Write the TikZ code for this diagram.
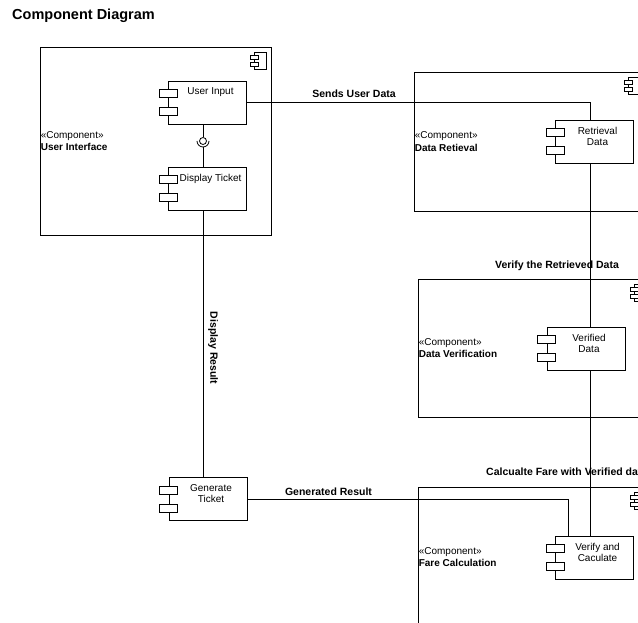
\documentclass[tikz,border=0pt]{standalone}
\usepackage{fontspec}
\setmainfont{Liberation Sans}
\usetikzlibrary{calc}

\newcommand{\umlcomp}[4]{%
  \node [part] (#1) at (#2,#3) {};
  \node [partlbl] (#1-t) at ([xshift=3pt,yshift=-7pt]#1.north) {#4};
  \draw [tab] ([xshift=-9pt,yshift=13pt]#1.west) rectangle ++(18,8);
  \draw [tab] ([xshift=-9pt,yshift=-5pt]#1.west) rectangle ++(18,8);
}
\newcommand{\umlicon}[1]{%
  \draw [tab, line width=0.6pt] ([xshift=-17pt,yshift=-6pt]#1.north east) rectangle ++(12,17);
  \draw [tab, line width=0.6pt] ([xshift=-21pt,yshift=-9pt]#1.north east) rectangle ++(8,4);
  \draw [tab, line width=0.6pt] ([xshift=-21pt,yshift=-16pt]#1.north east) rectangle ++(8,4);
}

\begin{document}
\begin{tikzpicture}[x=1pt, y=-1pt,
    every node/.style={inner sep=0pt},
    box/.style={draw, line width=0.8pt, fill=white},
    boxlbl/.style={anchor=west, align=left, font=\fontsize{10}{12.5}\selectfont},
    part/.style={draw, line width=0.8pt, fill=white, minimum width=78pt, minimum height=43pt},
    partlbl/.style={anchor=north, align=center, font=\fontsize{10}{11}\selectfont},
    tab/.style={draw, line width=0.8pt, fill=white},
    wire/.style={draw, line width=0.8pt},
    elabel/.style={font=\fontsize{10.5}{12}\selectfont\bfseries}]
\useasboundingbox (0,0) rectangle (638,623);
\fill [white] (0,0) rectangle (638,623);
\clip (0,0) rectangle (638,623);

\node [anchor=base west, font=\fontsize{14.5}{16}\selectfont\bfseries] (title) at (12,20) {Component Diagram};

\node [box, minimum width=231pt, minimum height=188pt] (ui) at (155.5,141) {};
\node [boxlbl] (ui-t) at ([xshift=1pt]ui.west) {«Component»\\\textbf{User Interface}};
\umlicon{ui}
\node [box, minimum width=231pt, minimum height=139pt] (dret) at (529.5,141.5) {};
\node [boxlbl] (dret-t) at ([xshift=1pt]dret.west) {«Component»\\\textbf{Data Retieval}};
\umlicon{dret}
\node [box, minimum width=233pt, minimum height=138pt] (dver) at (534.5,348) {};
\node [boxlbl] (dver-t) at ([xshift=1pt]dver.west) {«Component»\\\textbf{Data Verification}};
\umlicon{dver}
\node [box, minimum width=233pt, minimum height=140pt] (fare) at (534.5,557) {};
\node [boxlbl] (fare-t) at ([xshift=1pt]fare.west) {«Component»\\\textbf{Fare Calculation}};
\umlicon{fare}

\umlcomp{input}{207.5}{102.5}{User Input}
\umlcomp{disp}{207.5}{188.5}{Display Ticket}
\umlcomp{retr}{594.5}{141.5}{Retrieval\\Data}
\umlcomp{verd}{586}{348.5}{Verified\\Data}
\umlcomp{calc}{594.5}{557.5}{Verify and\\Caculate}
\umlcomp{gen}{208}{499}{Generate\\Ticket}

\node [elabel] (l-send) at (354,94) {Sends User Data};
\node [elabel] (l-verify) at (557,266) {Verify the Retrieved Data};
\node [elabel, anchor=west] (l-calc) at (486,472) {Calcualte Fare with Verified data};
\node [elabel] (l-gen) at (328.5,491.5) {Generated Result};
\node [elabel, rotate=-90] (l-disp) at (213,348) {Display Result};
\draw [gray!60, line width=0.5pt] (l-disp.north east -| 226,0) -- (l-disp.south east -| 226,0);

\coordinate (lbus) at (203,0);
\coordinate (rbus) at (590,0);
\coordinate (gbus) at (568,0);

\node [circle, draw, line width=0.8pt, minimum size=7pt] (lol) at (203,141) {};
\coordinate (sock) at ([yshift=-6pt]lol.center);
\draw [wire] (input.south -| lol) -- (lol.north);
\draw [wire] ([xshift=-6pt]lol.center) arc [start angle=180, end angle=360, radius=6pt];
\draw [wire] (sock) -- (disp.north -| lol);

\draw [wire] (input.east) -| (retr.north -| rbus);
\draw [wire] (retr.south -| rbus) -- (verd.north -| rbus);
\draw [wire] (verd.south -| rbus) -- (calc.north -| rbus);
\draw [wire] (disp.south -| lbus) -- (gen.north -| lbus);
\draw [wire] (gen.east) -| (calc.north -| gbus);
\end{tikzpicture}
\end{document}
